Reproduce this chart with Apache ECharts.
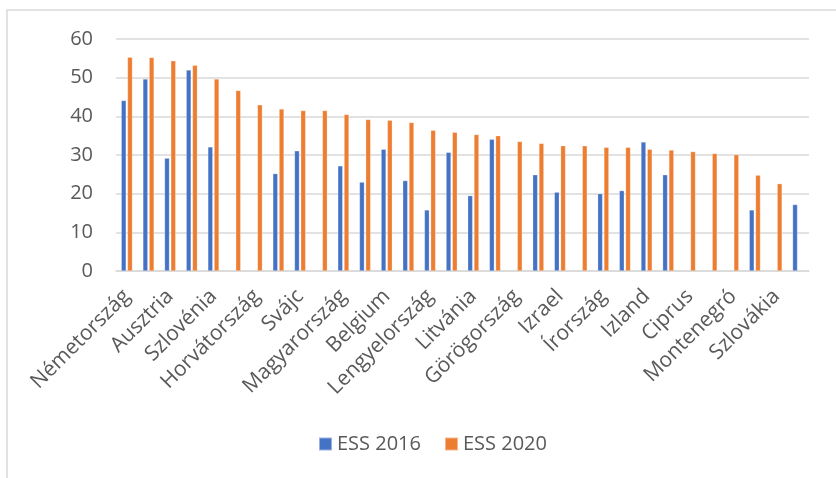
<!DOCTYPE html>
<html>
<head>
<meta charset="utf-8">
<script src="https://cdn.jsdelivr.net/npm/echarts@6/dist/echarts.min.js"></script>
<style>
html,body{margin:0;padding:0;background:#fff;}
#chart{width:836px;height:478px;}
</style>
</head>
<body>
<div id="chart"></div>
<script>
const categories = ["Németország","Norvégia","Ausztria","Finnország","Szlovénia","Csehország","Horvátország","Észtország","Svájc","Bulgária","Magyarország","Franciaország","Belgium","Hollandia","Lengyelország","Olaszország","Litvánia","Portugália","Görögország","Spanyolország","Izrael","Szerbia","Írország","Egyesült Királyság","Izland","Svédország","Ciprus","Észak-Macedónia","Montenegró","Oroszország","Szlovákia","Dánia"];
const seriesNames = ["ESS 2016","ESS 2020"];
const ess2016 = [44.1,49.7,29.2,52.0,32.1,null,null,25.2,31.1,null,27.2,23.0,31.5,23.4,15.8,30.7,19.5,34.1,null,24.9,20.4,null,20.0,20.8,33.4,24.9,null,null,null,15.8,null,17.2];
const ess2020 = [55.3,55.2,54.4,53.2,49.7,46.7,43.0,41.9,41.5,41.5,40.5,39.2,39.0,38.4,36.4,35.9,35.3,35.0,33.5,33.0,32.4,32.4,32.0,32.0,31.5,31.3,30.9,30.4,30.1,24.8,22.6,null];

const FONT = "'Open Sans', 'Noto Sans', sans-serif";
const chart = echarts.init(document.getElementById('chart'), null, {renderer:'canvas'});
chart.setOption({
  animation:false,
  backgroundColor:'#fff',
  graphic:[{type:'rect',shape:{x:7,y:10,width:1000,height:1000},style:{fill:'none',stroke:'#d9d9d9',lineWidth:1.5},silent:true}],
  grid:{left:116,right:27,top:39,bottom:207,containLabel:false},
  legend:{
    data:seriesNames,bottom:19,left:313,itemWidth:13,itemHeight:13,itemGap:23,icon:'rect',
    textStyle:{fontFamily:FONT,fontSize:20,color:'#595959',padding:[0,0,0,0]}
  },
  xAxis:{
    type:'category',data:categories,
    axisLine:{lineStyle:{color:'#d9d9d9',width:1.5}},
    axisTick:{show:false},
    axisLabel:{interval:1,rotate:45,margin:22,fontFamily:FONT,fontSize:21,color:'#595959'}
  },
  yAxis:{
    type:'value',min:0,max:60,interval:10,
    axisLine:{show:false},axisTick:{show:false},
    splitLine:{lineStyle:{color:'#d9d9d9',width:1.5}},
    axisLabel:{margin:23,fontFamily:FONT,fontSize:20,color:'#595959'}
  },
  series:[
    {name:seriesNames[0],type:'bar',data:ess2016,barGap:'25%',barCategoryGap:'48%',
     itemStyle:{color:'#4472C4',borderColor:'rgba(255,255,255,0.45)',borderWidth:0.6}},
    {name:seriesNames[1],type:'bar',data:ess2020,barGap:'25%',barCategoryGap:'48%',
     itemStyle:{color:'#ED7D31',borderColor:'rgba(255,255,255,0.45)',borderWidth:0.6}}
  ]
});
</script>
</body>
</html>
